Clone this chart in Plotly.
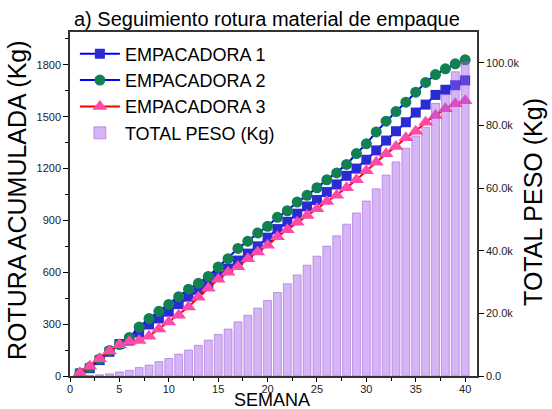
import plotly.graph_objects as go

semana = list(range(1, 41))

empacadora_1 = [15, 45, 92, 140, 185, 205, 252, 298, 333, 372,
                416, 459, 499, 536, 577, 621, 668, 708, 750, 800,
                850, 892, 939, 981, 1018, 1064, 1108, 1158, 1200, 1251,
                1305, 1362, 1416, 1468, 1524, 1570, 1626, 1656, 1682, 1710]

empacadora_2 = [17, 50, 98, 148, 182, 222, 283, 332, 374, 414,
                459, 502, 536, 576, 630, 679, 738, 780, 827, 866,
                918, 956, 1006, 1045, 1089, 1135, 1175, 1224, 1287, 1343,
                1412, 1474, 1530, 1584, 1642, 1698, 1744, 1777, 1806, 1829]

empacadora_3 = [17, 56, 100, 145, 181, 200, 206, 230, 272, 312,
                352, 399, 455, 508, 560, 600, 632, 678, 717, 757,
                806, 846, 890, 929, 968, 1010, 1046, 1089, 1135, 1188,
                1236, 1285, 1328, 1378, 1416, 1468, 1507, 1546, 1575, 1592]

total_peso = [100, 200, 400, 700, 1300, 1800, 2700, 3500, 4600, 5600,
              7000, 8300, 9800, 11500, 13300, 15000, 17300, 19400, 21700, 24100,
              26700, 29500, 32300, 35400, 38300, 41500, 44800, 48500, 52100, 55900,
              59800, 64200, 68400, 72800, 76700, 79500, 87100, 90000, 97200, 100400]

left_ticks = [0, 300, 600, 900, 1200, 1500, 1800]
right_tickvals = [0, 20000, 40000, 60000, 80000, 100000]
right_ticktext = ["0.0", "20.0k", "40.0k", "60.0k", "80.0k", "100.0k"]
x_ticks = [0, 5, 10, 15, 20, 25, 30, 35, 40]

fig = go.Figure()

fig.add_trace(go.Scatter(
    x=semana, y=empacadora_1, name="EMPACADORA 1", mode="lines+markers",
    line=dict(color="#0000FF", width=2),
    marker=dict(symbol="square", size=10, color="#2B2BD6"),
    yaxis="y"))
fig.add_trace(go.Scatter(
    x=semana, y=empacadora_2, name="EMPACADORA 2", mode="lines+markers",
    line=dict(color="#0000FF", width=2),
    marker=dict(symbol="circle", size=11, color="#128052"),
    yaxis="y"))
fig.add_trace(go.Scatter(
    x=semana, y=empacadora_3, name="EMPACADORA 3", mode="lines+markers",
    line=dict(color="#FF0000", width=2),
    marker=dict(symbol="triangle-up", size=13, color="#FF4AA8"),
    yaxis="y"))
fig.add_trace(go.Bar(
    x=semana, y=total_peso, name="TOTAL PESO (Kg)", width=0.8,
    marker=dict(color="rgba(165, 90, 235, 0.45)",
                line=dict(color="rgba(150, 80, 210, 0.5)", width=1)),
    yaxis="y2"))

FONT = "Liberation Sans, Arial, sans-serif"
axis_font = dict(family=FONT, size=11, color="#222222")

fig.update_layout(
    width=552, height=409,
    margin=dict(l=70, r=75, t=32, b=33, autoexpand=False),
    paper_bgcolor="white", plot_bgcolor="white",
    font=dict(family=FONT, color="black"),
    showlegend=True,
    legend=dict(x=0.012, y=0.99, xanchor="left", yanchor="top",
                bgcolor="rgba(0,0,0,0)", font=dict(size=18, color="black"),
                tracegroupgap=0, itemwidth=40),
    bargap=0.2,
    xaxis=dict(range=[0, 41.2], tickvals=x_ticks, ticks="outside", ticklen=4,
               tickcolor="black", tickfont=axis_font, automargin=False,
               ticklabelstandoff=-2,
               minor=dict(dtick=2.5, tick0=0, ticks="outside", ticklen=3, tickcolor="black"),
               showline=True, linecolor="#333333", linewidth=1.5, mirror=True,
               showgrid=False, zeroline=False),
    yaxis=dict(range=[0, 1990], tickvals=left_ticks, ticks="outside", ticklen=5,
               tickcolor="black", tickfont=axis_font, automargin=False,
               minor=dict(dtick=150, tick0=0, ticks="outside", ticklen=3, tickcolor="black"),
               showline=True, linecolor="#333333", linewidth=1.5,
               showgrid=False, zeroline=False),
    yaxis2=dict(range=[0, 109900], overlaying="y", side="right",
                tickvals=right_tickvals, ticktext=right_ticktext, automargin=False,
                ticks="outside", ticklen=5, tickcolor="black", tickfont=axis_font,
                showline=True, linecolor="#333333", linewidth=1.5,
                showgrid=False, zeroline=False),
    annotations=[
        dict(text="a) Seguimiento rotura material de empaque", xref="paper", yref="paper",
             x=0.484, y=1.038, xanchor="center", yanchor="middle", showarrow=False,
             font=dict(size=20, color="black", family=FONT)),
        dict(text="ROTURA ACUMULADA (Kg)", xref="paper", yref="paper",
             x=-0.130, y=0.512, xanchor="center", yanchor="middle", showarrow=False,
             textangle=-90, font=dict(size=25, color="black", family=FONT)),
        dict(text="TOTAL PESO (Kg)", xref="paper", yref="paper",
             x=1.1376, y=0.506, xanchor="center", yanchor="middle", showarrow=False,
             textangle=-90, font=dict(size=25, color="black", family=FONT)),
        dict(text="SEMANA", xref="paper", yref="paper",
             x=0.496, y=-0.1017, xanchor="center", yanchor="bottom", showarrow=False,
             borderpad=0, font=dict(size=18, color="black", family=FONT)),
    ],
)

fig.write_html("out.html",
               config={"displayModeBar": False},
               post_script="document.body.style.margin='0';document.body.style.overflow='hidden';")
